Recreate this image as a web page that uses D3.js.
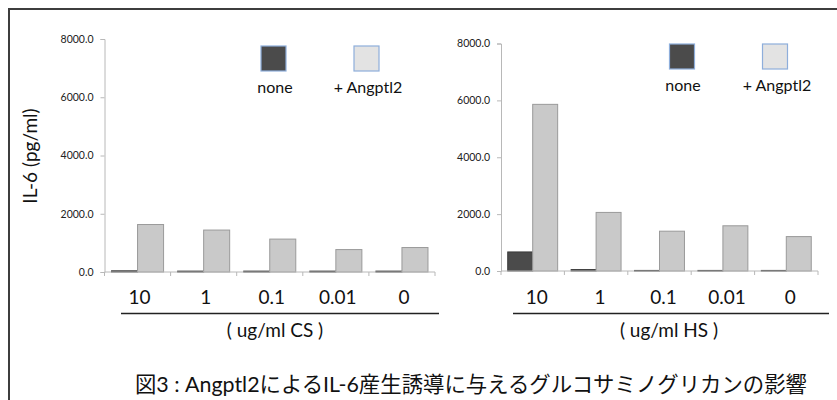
<!DOCTYPE html>
<html>
<head>
<meta charset="utf-8">
<script src="https://cdn.jsdelivr.net/npm/d3@7"></script>
<style>
  body { margin: 0; background: #fff; }
  text { font-family: Lato, "Noto Sans CJK JP", sans-serif; }
</style>
</head>
<body>
<svg></svg>
<script>
// data
var categories = ['10', '1', '0.1', '0.01', '0']
var series = ['none', '+ Angptl2']
var csNone = [40, 30, 30, 30, 30]
var csAngptl2 = [1630, 1440, 1130, 770, 840]
var hsNone = [670, 50, 20, 20, 20]
var hsAngptl2 = [5860, 2060, 1400, 1590, 1210]
var yTicks = [0, 2000, 4000, 6000, 8000]

var svgWidth = 837, svgHeight = 400
var svg = d3.select('svg')
    .attr('width', svgWidth)
    .attr('height', svgHeight)

var barColor = {'none': '#4b4b4b', '+ Angptl2': '#c9c9c9'}
var legendColor = {'none': '#4b4b4b', '+ Angptl2': '#e3e3e3'}

// outer frame (runs off to the right and bottom)
svg.append('rect')
    .attr('x', 9).attr('y', 9)
    .attr('width', 900).attr('height', 500)
    .attr('fill', 'none')
    .attr('stroke', '#3d3d3d')
    .attr('stroke-width', 2)

// y axis title
svg.append('text')
    .attr('transform', 'translate(37,156) rotate(-90)')
    .attr('text-anchor', 'middle')
    .attr('font-size', 19)
    .attr('fill', '#111')
    .text('IL-6 (pg/ml)')

function panel(opt) {
    var g = svg.append('g')

    var x = d3.scaleBand()
        .domain(categories)
        .range([opt.x0, opt.x1])
    var xs = d3.scaleBand()
        .domain(series)
        .range([0, x.bandwidth()])
        .paddingOuter(0.27)
    var y = d3.scaleLinear()
        .domain([0, 8000])
        .range([opt.y0, opt.y1])

    // y axis
    var yAxis = g.append('g')
        .attr('transform', 'translate(' + opt.x0 + ',0)')
        .call(d3.axisLeft(y).tickValues(yTicks).tickFormat(d3.format('.1f')).tickSize(4).tickPadding(7))
    yAxis.selectAll('line, path').attr('stroke', '#b8b8b8')
    yAxis.selectAll('text').attr('font-size', 10.5).attr('fill', '#222')
        .style('font-family', 'Lato, sans-serif')

    // bars
    var rows = categories.map(function(c, i) {
        return {cat: c, values: [{s: 'none', v: opt.none[i]}, {s: '+ Angptl2', v: opt.angptl2[i]}]}
    })
    var grp = g.selectAll('.cat')
        .data(rows)
        .enter()
        .append('g')
        .attr('transform', function(d) { return 'translate(' + x(d.cat) + ',0)' })
    grp.selectAll('rect')
        .data(function(d) { return d.values })
        .enter()
        .append('rect')
        .attr('x', function(d) { return xs(d.s) })
        .attr('width', xs.bandwidth())
        .attr('y', function(d) { return y(d.v) })
        .attr('height', function(d) { return y(0) - y(d.v) })
        .attr('fill', function(d) { return barColor[d.s] })
        .attr('stroke', function(d) { return d.s === 'none' ? '#3a3a3a' : '#9a9a9a' })
        .attr('stroke-width', 1)

    // x axis with ticks at category boundaries
    var xAxis = g.append('g')
        .attr('transform', 'translate(0,' + opt.y0 + ')')
    xAxis.append('line')
        .attr('x1', opt.x0).attr('x2', opt.x1)
        .attr('stroke', '#b8b8b8')
    xAxis.selectAll('.tk')
        .data(categories.concat(['end']))
        .enter()
        .append('line')
        .attr('x1', function(d) { return d === 'end' ? opt.x1 : x(d) })
        .attr('x2', function(d) { return d === 'end' ? opt.x1 : x(d) })
        .attr('y1', 0).attr('y2', 4)
        .attr('stroke', '#b8b8b8')

    // category labels
    g.selectAll('.lab')
        .data(categories)
        .enter()
        .append('text')
        .attr('x', function(d) { return x(d) + x.bandwidth() / 2 + opt.labShift })
        .attr('y', 304)
        .attr('text-anchor', 'middle')
        .attr('font-size', 19)
        .attr('fill', '#111')
        .text(function(d) { return d })

    g.append('line')
        .attr('x1', opt.lineX0).attr('x2', opt.lineX1)
        .attr('y1', 313.5).attr('y2', 313.5)
        .attr('stroke', '#222')
        .attr('stroke-width', 1.3)

    g.append('text')
        .attr('x', opt.unitX)
        .attr('y', 337)
        .attr('text-anchor', 'middle')
        .attr('font-size', 19)
        .attr('fill', '#111')
        .text(opt.unit)

    // legend
    var leg = g.selectAll('.leg')
        .data(series)
        .enter()
        .append('g')
        .attr('transform', function(d, i) { return 'translate(' + opt.legX[i] + ',' + opt.legY + ')' })
    leg.append('rect')
        .attr('x', -12.5).attr('y', 0)
        .attr('width', 25).attr('height', 25)
        .attr('fill', function(d) { return legendColor[d] })
        .attr('stroke', '#8eaedb')
        .attr('stroke-width', 1.2)
    leg.append('text')
        .attr('x', function(d, i) { return opt.legTextDx[i] })
        .attr('y', 47)
        .attr('text-anchor', 'middle')
        .attr('font-size', 16)
        .attr('fill', '#111')
        .text(function(d) { return d })
}

panel({
    x0: 104.5, x1: 435, y0: 272, y1: 39,
    none: csNone, angptl2: csAngptl2,
    labShift: 2, lineX0: 121, lineX1: 439,
    unit: '( ug/ml CS )', unitX: 275,
    legX: [273.5, 366.5], legY: 46, legTextDx: [1.5, 1.5]
})

panel({
    x0: 501, x1: 818, y0: 271, y1: 43.5,
    none: hsNone, angptl2: hsAngptl2,
    labShift: 4, lineX0: 513, lineX1: 829,
    unit: '( ug/ml HS )', unitX: 669,
    legX: [682, 775], legY: 44, legTextDx: [1, 2]
})

// caption
svg.append('text')
    .attr('x', 471)
    .attr('y', 392)
    .attr('text-anchor', 'middle')
    .attr('font-size', 21.4)
    .attr('fill', '#111')
    .text('図3 : Angptl2によるIL-6産生誘導に与えるグルコサミノグリカンの影響')
</script>
</body>
</html>
